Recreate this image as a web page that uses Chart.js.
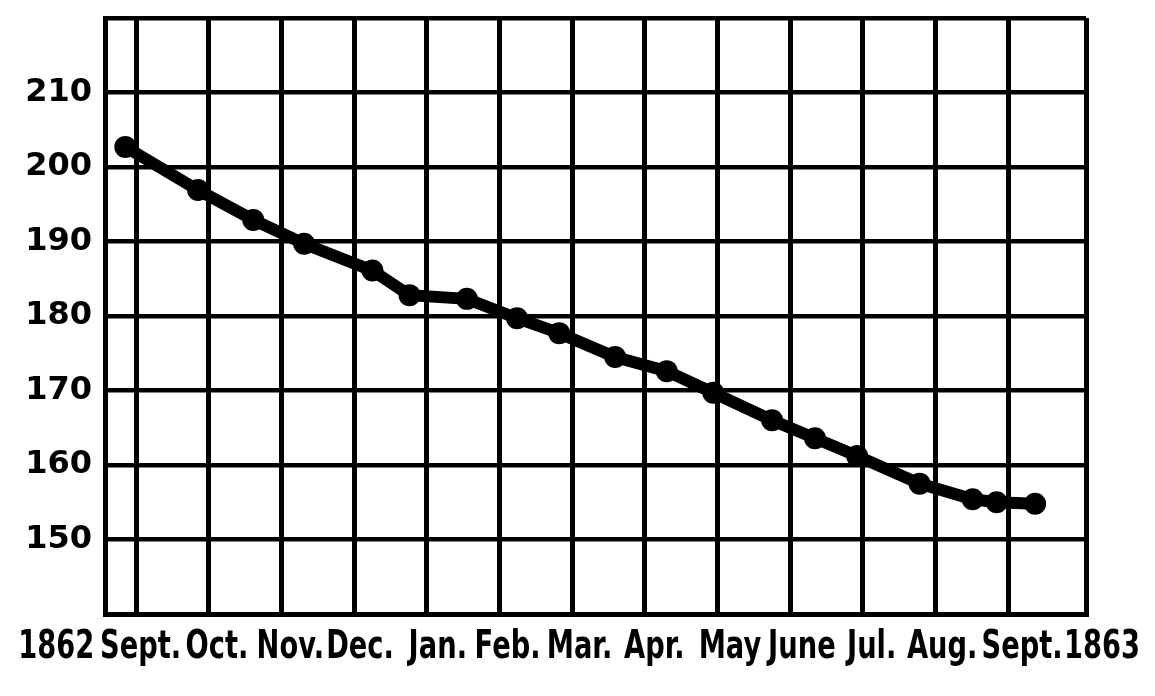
<!DOCTYPE html>
<html>
<head>
<meta charset="utf-8">
<title>1862 - 1863</title>
<script src="https://cdn.jsdelivr.net/npm/chart.js@4.4.1/dist/chart.umd.min.js"></script>
<style>
	html, body { margin: 0; padding: 0; background: #fff; }
	#wrap { width: 1155px; height: 696px; position: relative; }
</style>
</head>
<body>
<div id="wrap"><canvas id="chart1"></canvas></div>
<script>
"use strict";

// position of each reading, in months from Sept. 1862
var monthPos = [-0.15, 0.85, 1.61, 2.31, 3.25, 3.76, 4.55, 5.24, 5.82, 6.59, 7.30, 7.94, 8.75, 9.34, 9.92, 10.78, 11.51, 11.84, 12.37];
var readings = [202.7, 196.9, 192.9, 189.7, 186.1, 182.8, 182.3, 179.7, 177.7, 174.5, 172.6, 169.7, 166.0, 163.6, 161.2, 157.5, 155.4, 155.0, 154.8];

// hand lettered row under the chart
var monthLabels = ['1862', 'Sept.', 'Oct.', 'Nov.', 'Dec.', 'Jan.', 'Feb.', 'Mar.', 'Apr.', 'May', 'June', 'Jul.', 'Aug.', 'Sept.', '1863'];
var labelPos = [-1.10, 0.06, 1.11, 2.12, 3.08, 4.15, 5.11, 6.10, 7.13, 8.17, 9.16, 10.12, 11.09, 12.19, 13.29];

var gridCols = [0, 1, 2, 3, 4, 5, 6, 7, 8, 9, 10, 11, 12];
var xMin = -0.43, xMax = 13.07;
var yMin = 140, yMax = 220;

var points = monthPos.map(function(m, i) {
	return { x: m, y: readings[i] };
});

// draws the month row through the x scale
var monthRow = {
	id: 'monthRow',
	afterDraw: function(chart) {
		var ctx = chart.ctx;
		var xs = chart.scales.x;
		var base = chart.chartArea.bottom + 44;
		ctx.save();
		ctx.fillStyle = '#000';
		ctx.font = 'bold 39px "DejaVu Sans"';
		ctx.textAlign = 'center';
		ctx.textBaseline = 'alphabetic';
		monthLabels.forEach(function(txt, i) {
			ctx.save();
			ctx.translate(xs.getPixelForValue(labelPos[i]), base);
			ctx.scale(0.7, 1);
			ctx.fillText(txt, 0, 0);
			ctx.restore();
		});
		ctx.restore();
	}
};

var ctx = document.getElementById('chart1').getContext('2d');
var myChart = new Chart(ctx, {
	type: 'line',
	data: {
		datasets: [{
			label: 'readings',
			data: points,
			borderColor: '#000',
			backgroundColor: '#000',
			borderWidth: 12,
			pointRadius: 11,
			pointBackgroundColor: '#000',
			pointBorderWidth: 0,
			tension: 0,
			fill: false
		}]
	},
	options: {
		responsive: true,
		maintainAspectRatio: false,
		animation: false,
		events: [],
		layout: {
			padding: { left: 20, right: 69, top: 18, bottom: 82 }
		},
		plugins: {
			legend: { display: false },
			tooltip: { enabled: false }
		},
		scales: {
			x: {
				type: 'linear',
				min: xMin,
				max: xMax,
				afterBuildTicks: function(s) {
					s.ticks = [xMin].concat(gridCols, [xMax]).map(function(v) {
						return { value: v };
					});
				},
				afterFit: function(s) { s.height = 0; },
				ticks: { display: false },
				grid: {
					color: '#000',
					lineWidth: 5,
					drawTicks: false
				},
				border: { color: '#000', width: 5 }
			},
			y: {
				min: yMin,
				max: yMax,
				afterFit: function(s) {
					s.width = 85;
					s.paddingTop = 0;
					s.paddingBottom = 0;
				},
				ticks: {
					stepSize: 10,
					padding: 13,
					color: '#000',
					font: { family: 'DejaVu Sans', size: 32, weight: 'bold' },
					callback: function(v) {
						return (v > yMin && v < yMax) ? v : '';
					}
				},
				grid: {
					color: '#000',
					lineWidth: 4.5,
					drawTicks: false
				},
				border: { color: '#000', width: 5 }
			}
		}
	},
	plugins: [monthRow]
});
</script>
</body>
</html>
